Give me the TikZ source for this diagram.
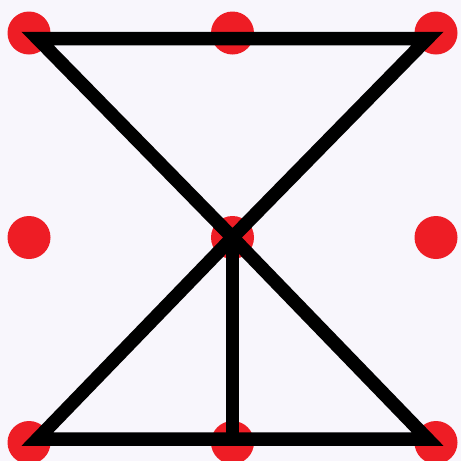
\documentclass[tikz,border=0pt]{standalone}
\definecolor{bgcol}{RGB}{248,246,252}
\definecolor{dotred}{RGB}{238,29,37}
\begin{document}
\begin{tikzpicture}[x=1pt, y=-1pt,
  dot/.style={circle, fill=dotred, inner sep=0pt, minimum size=43pt},
  bar/.style={line width=13.5pt, line join=miter, draw=black}]
  % background
  \fill[bgcol] (0,0) rectangle (461,461);
  \useasboundingbox (0,0) rectangle (461,461);
  % dots
  \node[dot] (d11) at (29,33) {};
  \node[dot] (d12) at (232.5,33) {};
  \node[dot] (d13) at (436,33) {};
  \node[dot] (d21) at (29,237.5) {};
  \node[dot] (d22) at (232.5,237.5) {};
  \node[dot] (d23) at (436,237.5) {};
  \node[dot] (d31) at (29,442.5) {};
  \node[dot] (d32) at (232.5,442.5) {};
  \node[dot] (d33) at (436,442.5) {};
  % hourglass corners
  \coordinate (mid) at (232.5,237.5);
  \coordinate (topL) at (37.5,38.5);
  \coordinate (topR) at (427.5,38.5);
  \coordinate (botL) at (37.5,439);
  \coordinate (botR) at (427.5,439);
  \coordinate (botM) at (232.5,439);
  % lines
  \draw[bar] (mid) -- (topL) -- (topR) -- (mid) -- (botL) -- (botR) -- cycle;
  \draw[bar] (mid) -- (botM);
\end{tikzpicture}
\end{document}
